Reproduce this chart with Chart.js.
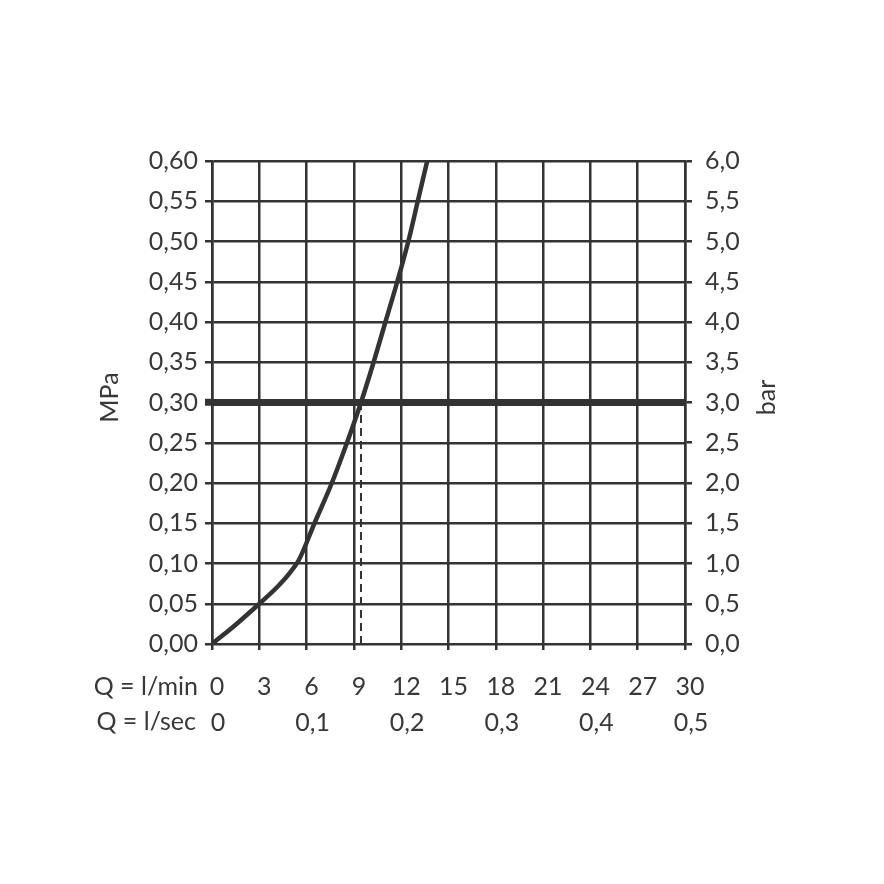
<!DOCTYPE html>
<html>
<head>
<meta charset="utf-8">
<script src="https://cdn.jsdelivr.net/npm/chart.js@4.4.1/dist/chart.umd.min.js"></script>
<style>
  html, body { margin: 0; padding: 0; background: #fff; }
  #wrap { width: 884px; height: 884px; }
</style>
</head>
<body>
<div id="wrap"><canvas id="flowChart"></canvas></div>
<script>
// flow curve (l/min -> MPa)
const flowLmin = [0, 1.5, 3, 4.2, 5.0, 5.5, 6.5, 7.6, 8.56, 9.45, 10.25, 11.0, 11.75, 12.45, 13.05, 13.65];
const pressureMPa = [0, 0.024, 0.05, 0.072, 0.09, 0.104, 0.15, 0.20, 0.25, 0.30, 0.35, 0.40, 0.45, 0.50, 0.55, 0.60];

// 3 bar working pressure line and the dashed marker down to the flow axis
const workFlow = [0, 30];
const workPressure = [0.3, 0.3];
const markFlow = [9.45, 9.45];
const markPressure = [0, 0.3];

// axis ranges
const lminRange = [0, 30, 3];
const lsecRange = [0, 0.5, 0.1];
const mpaRange = [0, 0.6, 0.05];
const barRange = [0, 6, 0.5];

const lineColor = '#333333';
const textColor = '#383838';
const tickFont = { family: 'Lato', size: 25, weight: '400' };

function toPoints(xs, ys) {
  return xs.map((x, i) => ({ x: x, y: ys[i] }));
}

function comma(v, digits) {
  if (Math.abs(v) < 1e-9 && digits === 0) return '0';
  return v.toFixed(digits).replace('.', ',');
}

const axisText = {
  id: 'axisText',
  afterDraw(chart) {
    const { ctx, chartArea } = chart;
    const midY = (chartArea.top + chartArea.bottom) / 2 - 5;
    ctx.save();
    ctx.fillStyle = textColor;
    ctx.font = '400 25px Lato';
    [[110, 'MPa'], [767, 'bar']].forEach(([x, t]) => {
      ctx.save();
      ctx.translate(x, midY);
      ctx.rotate(-Math.PI / 2);
      ctx.textAlign = 'center';
      ctx.textBaseline = 'middle';
      ctx.fillText(t, 0, 0);
      ctx.restore();
    });
    ctx.textAlign = 'right';
    ctx.textBaseline = 'middle';
    ctx.fillText('Q = l/min', 198, chartArea.bottom + 43);
    ctx.fillText('Q = l/sec', 196, chartArea.bottom + 78);
    ctx.restore();
  }
};

const ctx = document.getElementById('flowChart').getContext('2d');
new Chart(ctx, {
  type: 'line',
  data: {
    datasets: [
      {
        data: toPoints(flowLmin, pressureMPa),
        borderColor: lineColor,
        borderWidth: 4.5,
        cubicInterpolationMode: 'monotone',
        pointRadius: 0,
        xAxisID: 'x',
        yAxisID: 'y'
      },
      {
        data: toPoints(workFlow, workPressure),
        borderColor: lineColor,
        borderWidth: 7,
        pointRadius: 0,
        xAxisID: 'x',
        yAxisID: 'y'
      },
      {
        data: toPoints(markFlow, markPressure),
        borderColor: lineColor,
        borderWidth: 2,
        borderDash: [8, 5],
        pointRadius: 0,
        xAxisID: 'x',
        yAxisID: 'y'
      }
    ]
  },
  options: {
    responsive: true,
    maintainAspectRatio: false,
    animation: false,
    layout: { padding: { left: 0, right: 0, top: 161, bottom: 144 } },
    plugins: {
      legend: { display: false },
      tooltip: { enabled: false }
    },
    scales: {
      x: {
        type: 'linear',
        position: 'bottom',
        min: lminRange[0],
        max: lminRange[1],
        afterFit: s => { s.height = 55; },
        grid: { color: lineColor, lineWidth: 2.5, tickLength: 6, tickColor: lineColor },
        border: { display: false },
        ticks: {
          stepSize: lminRange[2],
          color: textColor,
          font: tickFont,
          padding: 22,
          labelOffset: 5,
          maxRotation: 0,
          callback: v => String(v)
        }
      },
      x2: {
        type: 'linear',
        position: 'bottom',
        min: lsecRange[0],
        max: lsecRange[1],
        afterFit: s => { s.height = 41; },
        grid: { display: false },
        border: { display: false },
        ticks: {
          stepSize: lsecRange[2],
          color: textColor,
          font: tickFont,
          padding: 1,
          labelOffset: 6,
          maxRotation: 0,
          callback: v => comma(v, v === 0 ? 0 : 1)
        }
      },
      y: {
        type: 'linear',
        position: 'left',
        min: mpaRange[0],
        max: mpaRange[1],
        afterFit: s => { s.width = 212; },
        grid: {
          color: lineColor,
          lineWidth: 2.5,
          tickLength: 7,
          tickColor: lineColor,
          tickWidth: c => (c.tick && Math.abs(c.tick.value - 0.3) < 1e-6 ? 7 : 2.5)
        },
        border: { display: true, color: lineColor, width: 2.5 },
        ticks: {
          stepSize: mpaRange[2],
          color: textColor,
          font: tickFont,
          padding: 7,
          callback: v => comma(v, 2)
        }
      },
      yBar: {
        type: 'linear',
        position: 'right',
        min: barRange[0],
        max: barRange[1],
        afterFit: s => { s.width = 199; },
        grid: { drawOnChartArea: false, color: lineColor, lineWidth: 2.5, tickLength: 7 },
        border: { display: true, color: lineColor, width: 2.5 },
        ticks: {
          stepSize: barRange[2],
          color: textColor,
          font: tickFont,
          padding: 13,
          callback: v => comma(v, 1)
        }
      }
    }
  },
  plugins: [axisText]
});
</script>
</body>
</html>
